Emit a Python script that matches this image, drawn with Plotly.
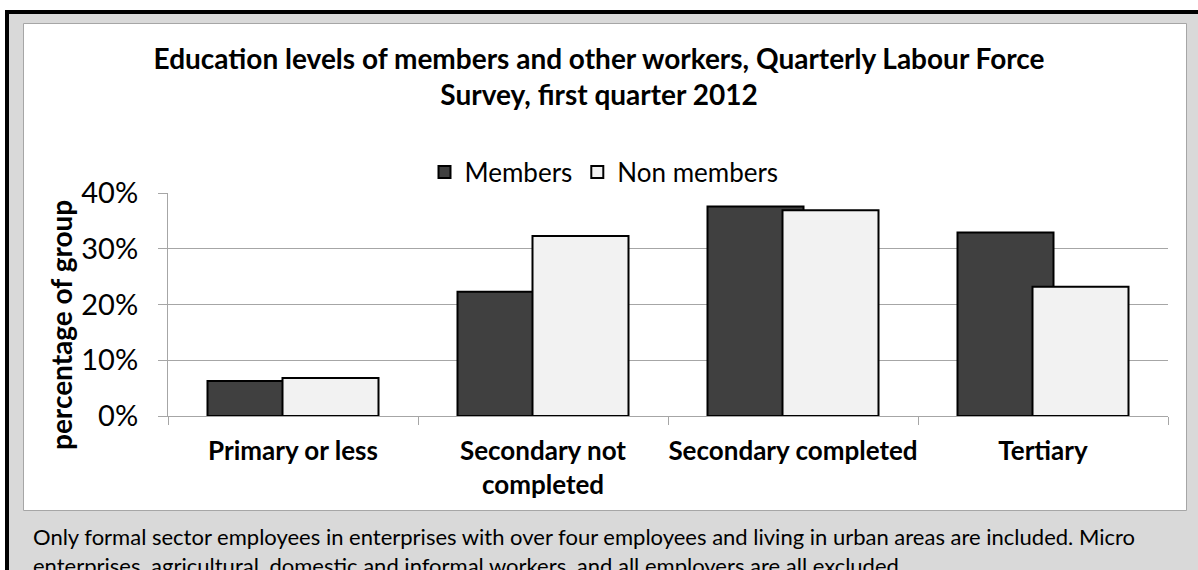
import plotly.graph_objects as go

# Survey categories and shares of each group (fractions)
categories = ["Primary or less", "Secondary not<br>completed", "Secondary completed", "Tertiary"]
members = [0.063, 0.223, 0.376, 0.329]
non_members = [0.068, 0.323, 0.369, 0.232]
y_ticks = [0, 0.1, 0.2, 0.3, 0.4]

FONT = "Lato"
W, H = 1198, 570
L, R, T, B = 168, 30, 193, 154  # plot area 168..1168 x 193..416


def px(x):
    return (x - L) / (W - L - R)


def py(y):
    return (H - B - y) / (H - T - B)


fig = go.Figure()
fig.add_trace(go.Bar(
    x=categories, y=members, name="Members",
    width=0.384, offset=-0.342,
    marker=dict(color="#404040", line=dict(color="black", width=2)),
))
fig.add_trace(go.Bar(
    x=categories, y=non_members, name="Non members",
    width=0.384, offset=-0.042,
    marker=dict(color="#f2f2f2", line=dict(color="black", width=2)),
))

shapes = [
    # outer frame with grey fill
    dict(type="rect", xref="paper", yref="paper", layer="below",
         x0=px(7), x1=px(1215), y0=py(12), y1=py(600),
         fillcolor="#d9d9d9", line=dict(color="black", width=4)),
    # white chart box
    dict(type="rect", xref="paper", yref="paper", layer="below",
         x0=px(23.5), x1=px(1186.5), y0=py(23.5), y1=py(510.5),
         fillcolor="white", line=dict(color="#a6a6a6", width=1)),
]

annotations = [
    dict(text="<b>percentage of group</b>", xref="paper", yref="paper",
         x=px(61), y=py(325), textangle=-90, showarrow=False,
         font=dict(family=FONT, size=28, color="black"),
         xanchor="center", yanchor="middle"),
    dict(text="Only formal sector employees in enterprises with over four employees and living in urban areas are included. Micro"
              "<br>enterprises, agricultural, domestic and informal workers, and all employers are all excluded.",
         xref="paper", yref="paper", x=px(31), y=py(521), showarrow=False,
         xanchor="left", yanchor="top", align="left",
         font=dict(family=FONT, size=22, color="black")),
]

fig.update_layout(
    width=W, height=H,
    margin=dict(l=L, r=R, t=T, b=B, pad=0, autoexpand=False),
    paper_bgcolor="white", plot_bgcolor="white",
    barmode="overlay",
    font=dict(family=FONT, color="black"),
    title=dict(
        text="<b>Education levels of members and other workers, Quarterly Labour Force<br>Survey, first quarter 2012</b>",
        xref="container", yref="container", x=0.5, y=1 - 69 / H,
        xanchor="center", yanchor="middle",
        font=dict(family=FONT, size=28, color="black"),
    ),
    legend=dict(orientation="h", xanchor="center", yanchor="middle",
                x=px(604), y=py(172), font=dict(family=FONT, size=26),
                bgcolor="rgba(0,0,0,0)", itemwidth=30, traceorder="normal"),
    shapes=shapes,
    annotations=annotations,
    xaxis=dict(
        type="category", showline=True, linecolor="#a6a6a6", linewidth=1,
        ticks="outside", tickson="boundaries", ticklen=8, tickcolor="#a6a6a6",
        showgrid=False, zeroline=False, tickangle=0, automargin=False,
        tickfont=dict(family=FONT, size=26, color="black"),
        ticklabelstandoff=12,
    ),
    yaxis=dict(
        range=[0, 0.4], tickvals=y_ticks, tickformat=".0%",
        showline=True, linecolor="#a6a6a6", linewidth=1,
        ticks="outside", ticklen=9, tickcolor="#a6a6a6", automargin=False,
        gridcolor="#a6a6a6", gridwidth=1, zeroline=False,
        tickfont=dict(family=FONT, size=29, color="black"),
        ticklabelstandoff=14,
    ),
)

# bold category labels
fig.update_xaxes(ticktext=["<b>%s</b>" % c for c in categories], tickvals=categories)

fig.write_html("out.html")
